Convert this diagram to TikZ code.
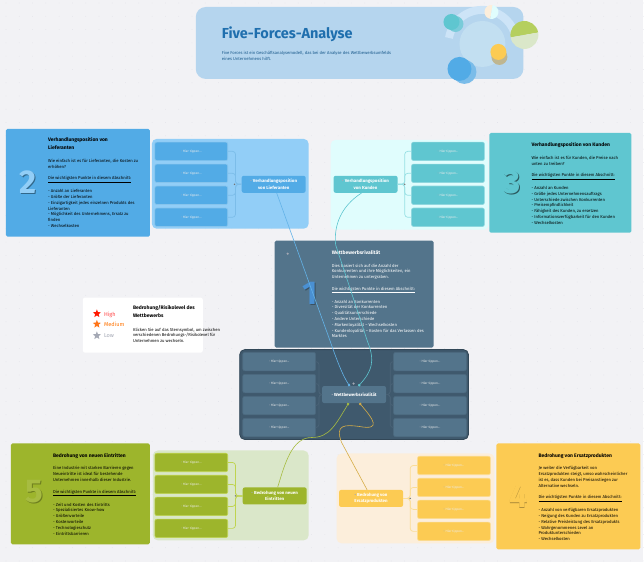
\documentclass[tikz,border=0pt]{standalone}
\usepackage{fontspec}
\setmainfont{Fira Sans}
\usetikzlibrary{arrows.meta,shapes.geometric}
\definecolor{pagebg}{HTML}{F2F2F5}
\definecolor{griddot}{HTML}{DEDEE6}
\definecolor{headbg}{HTML}{B5D5EE}
\definecolor{headink}{HTML}{1F6FAE}
\definecolor{headring}{HTML}{CDE4F7}
\definecolor{headdisc}{HTML}{C2DFF1}
\definecolor{ltblue}{HTML}{52ABE6}
\definecolor{ltpanel}{HTML}{92CEF7}
\definecolor{ltline}{HTML}{7CBDE9}
\definecolor{ktteal}{HTML}{5FC6D0}
\definecolor{ktpanel}{HTML}{E0FDFD}
\definecolor{ktline}{HTML}{97E0E4}
\definecolor{rvslate}{HTML}{53748B}
\definecolor{rvpanel}{HTML}{3F596D}
\definecolor{rvline}{HTML}{4A6377}
\definecolor{rvnum}{HTML}{4A90D2}
\definecolor{ngreen}{HTML}{9DB52C}
\definecolor{ngtop}{HTML}{B5CF5E}
\definecolor{ngpanel}{HTML}{DAE7C9}
\definecolor{ngline}{HTML}{BFD450}
\definecolor{ersyellow}{HTML}{FCCB53}
\definecolor{erpanel}{HTML}{FCEEDB}
\definecolor{erline}{HTML}{FBDD95}
\definecolor{dotgray}{HTML}{A4A8B4}
\newcommand{\cardfont}{\fontsize{4.2}{5.8}\selectfont}
\newcommand{\cardhead}{\fontsize{5}{8}\selectfont\bfseries}
\newcommand{\hint}{\textcolor{dotgray}{\textbullet}~Hier tippen...}
\tikzset{
	panelbox/.style = {rounded corners=5},
	subbox/.style = {draw, line width=.6, rounded corners=2, minimum width=73,
		minimum height=18.5, inner sep=0, text=white!85!gray, font=\fontsize{3.2}{4}\selectfont},
	mainbox/.style = {rounded corners=2, minimum width=64, minimum height=17,
		inner sep=0, align=center, text=white, font=\fontsize{4.4}{6.2}\selectfont\bfseries},
	bodytext/.style = {anchor=north west, align=left, inner sep=0, font=\cardfont},
	headtext/.style = {anchor=north west, align=left, inner sep=0, font=\cardhead},
	numeral/.style = {inner sep=0, font=\fontsize{33}{33}\selectfont\bfseries},
	bracket/.style = {line width=.7, rounded corners=3},
	junction/.style = {circle, minimum size=1.6, inner sep=0, fill=black!55},
	link/.style = {line width=.6, -{Square[length=2,width=2]}},
	starmark/.style = {star, star points=5, star point ratio=2.3, minimum size=8.5, inner sep=0}
}
\begin{document}
\begin{tikzpicture}[x=1pt, y=-1pt]
	\fill[pagebg] (0,0) rectangle (644,563);
	\foreach \i in {0,...,48}
		\foreach \j in {0,...,42}
			\fill[griddot] ({6+13.3*\i},{3+13.3*\j}) circle (.35);

	% header
	\fill[headbg, rounded corners=10] (196,7) rectangle (524,79);
	\draw[line width=8, color=headring] (449.5,38) arc[start angle=170, end angle=10, radius=34pt];
	\fill[headdisc] (483,44) circle (23);
	\fill[color=ktteal!70!headbg] (456,24) circle (8);
	\fill[ktteal] (452,22) circle (8);
	\fill[color=ltblue!60!headbg] (465,72) circle (12);
	\fill[color=ltblue] (460,69) circle (12);
	\fill[color=ersyellow!55!gray!70!headbg] (500,57) circle (8);
	\fill[ersyellow] (499,52) circle (8);
	\fill[ngtop] (525,35) -- ++(190:14pt) arc[start angle=190, end angle=10, radius=14pt] -- cycle;
	\fill[ngpanel] (525,35) -- ++(190:14pt) arc[start angle=190, end angle=370, radius=14pt] -- cycle;
	\fill[erpanel] (492,12) -- ++(80:7pt) arc[start angle=80, end angle=260, radius=7pt] -- cycle;
	\fill[ktpanel] (492,12) -- ++(80:7pt) arc[start angle=80, end angle=-100, radius=7pt] -- cycle;
	\node[anchor=west, inner sep=0, text=headink, font=\fontsize{14.5}{16}\selectfont\bfseries] (title) at (222,34) {Five-Forces-Analyse};
	\node[bodytext, text=headink!80!black, anchor=north west] (titlenote) at (222,51.5) {Five Forces ist ein Geschäftsanalysemodell, das bei der Analyse des Wettbewerbsumfelds\\eines Unternehmens hilft.};

	% panels
	\fill[ltpanel, panelbox] (152,139) rectangle (309,229);
	\fill[ktpanel, panelbox] (331,140) rectangle (489,230);
	\fill[ngpanel, panelbox] (153,451) rectangle (309,541);
	\fill[erpanel, panelbox] (337,454) rectangle (495,544);
	\filldraw[fill=rvpanel, draw=rvpanel!80!black, line width=.8, rounded corners=5] (240,350) rectangle (469,440);

	% cards
	\fill[ltblue, rounded corners=1.5] (6,129) rectangle (150,237);
	\fill[ktteal, rounded corners=1.5] (490,133) rectangle (632,233);
	\fill[rvslate, rounded corners=1.5] (275,241) rectangle (434,348);
	\fill[ngreen, rounded corners=1.5] (11,444) rectangle (150,545);
	\fill[ersyellow, rounded corners=1.5] (497,444) rectangle (641,550);

	\node[numeral, text=ltblue!60!black] (num2s) at (29,183) {2};
	\node[numeral, text=ltpanel] (num2) at (28,182) {2};
	\node[numeral, text=ktteal!45!black] (num3s) at (513.7,183.7) {3};
	\node[numeral, text=ktteal] (num3) at (513,183) {3};
	\node[numeral, text=rvslate!70!black] (num1s) at (312,295) {1};
	\node[numeral, text=rvnum] (num1) at (311,294) {1};
	\node[numeral, text=ngreen!70!black] (num5s) at (35,493) {5};
	\node[numeral, text=ngreen!90!white] (num5) at (34,492) {5};
	\node[numeral, text=ersyellow!70!black] (num4s) at (519.7,497.7) {4};
	\node[numeral, text=ersyellow] (num4) at (519,497) {4};

	\node[headtext] (headL) at (48,137.5) {Verhandlungsposition von\\Lieferanten};
	\node[bodytext] (textL) at (48,159) {Wie einfach ist es für Lieferanten, die Kosten zu\\erhöhen?\\[5.8pt]
		\underline{Die wichtigsten Punkte in diesem Abschnitt:}\\[5.8pt]
		- Anzahl an Lieferanten\\- Größe der Lieferanten\\- Einzigartigkeit jedes einzelnen Produkts des\\Lieferanten\\- Möglichkeit des Unternehmens, Ersatz zu\\finden\\- Wechselkosten};

	\node[headtext] (headK) at (532,142) {Verhandlungsposition von Kunden};
	\node[bodytext] (textK) at (532,156) {Wie einfach ist es für Kunden, die Preise nach\\unten zu treiben?\\[5.8pt]
		\underline{Die wichtigsten Punkte in diesem Abschnitt:}\\[5.8pt]
		- Anzahl an Kunden\\- Größe jedes Unternehmensauftrags\\- Unterschiede zwischen Konkurrenten\\- Preisempfindlichkeit\\- Fähigkeit des Kunden, zu ersetzen\\- Informationsverfügbarkeit für den Kunden\\- Wechselkosten};

	\node[headtext, text=white] (headR) at (332,251) {Wettbewerbsrivalität};
	\node[bodytext, text=white] (textR) at (332,264) {Dies basiert sich auf die Anzahl der\\Konkurrenten und ihre Möglichkeiten, ein\\Unternehmen zu untergraben.\\[5.8pt]
		\underline{Die wichtigsten Punkte in diesem Abschnitt:}\\[5.8pt]
		- Anzahl an Konkurrenten\\- Diversität der Konkurrenten\\- Qualitätsunterschiede\\- Andere Unterschiede\\- Markenloyalität – Wechselkosten\\- Kundenloyalität – Kosten für das Verlassen des\\Marktes};
	\node[circle, fill=dotgray, minimum size=2.4, inner sep=0] (dotR) at (288,254) {};

	\node[headtext] (headN) at (53,454) {Bedrohung von neuen Eintritten};
	\node[bodytext] (textN) at (53,467) {Eine Industrie mit starken Barrieren gegen\\Neueintritte ist ideal für bestehende\\Unternehmen innerhalb dieser Industrie.\\[5.8pt]
		\underline{Die wichtigsten Punkte in diesem Abschnitt:}\\[5.8pt]
		- Zeit und Kosten des Eintritts\\- Spezialisiertes Know-how\\- Größenvorteile\\- Kostenvorteile\\- Technologieschutz\\- Eintrittsbarrieren};

	\node[headtext] (headE) at (539,454) {Bedrohung von Ersatzprodukten};
	\node[bodytext] (textE) at (539,467) {Je weiter die Verfügbarkeit von\\Ersatzprodukten steigt, umso wahrscheinlicher\\ist es, dass Kunden bei Preisanstiegen zur\\Alternative wechseln.\\[5.8pt]
		\underline{Die wichtigsten Punkte in diesem Abschnitt:}\\[5.8pt]
		- Anzahl von verfügbaren Ersatzprodukten\\- Neigung des Kunden zu Ersatzprodukten\\- Relative Preisleistung des Ersatzprodukts\\- Wahrgenommenes Level an\\Produktunterschieden\\- Wechselkosten};

	% legend
	\fill[white, rounded corners=2] (83,298) rectangle (203,353);
	\node[starmark, fill=red!80!orange] (starH) at (97,314) {};
	\node[starmark, fill=orange!80!red!90!white] (starM) at (97,324.5) {};
	\node[starmark, fill=dotgray] (starL) at (97,336) {};
	\node[anchor=west, inner sep=0, text=red!70!white, font=\fontsize{5.6}{6}\selectfont] (labH) at (104,315) {High};
	\node[anchor=west, inner sep=0, text=orange!90!red, font=\fontsize{5.6}{6}\selectfont] (labM) at (104,325) {Medium};
	\node[anchor=west, inner sep=0, text=dotgray, font=\fontsize{5.6}{6}\selectfont] (labL) at (104,336) {Low};
	\node[headtext] (headB) at (133,306) {Bedrohung/Risikolevel des\\Wettbewerbs};
	\node[bodytext] (textB) at (133,328) {Klicken Sie auf das Sternsymbol, um zwischen\\verschiedenen Bedrohungs-/Risikolevel für\\Unternehmen zu wechseln.};

	% mind map groups
	\foreach \n in {1,...,4} {
		\node[subbox, fill=ltblue, draw=ltblue!70!white] (lief\n) at (191.5,{151.5+22*(\n-1)}) {\hint};
		\node[subbox, fill=ktteal, draw=ktteal!70!white] (kund\n) at (448.5,{151.5+22*(\n-1)}) {\hint};
		\node[subbox, fill=rvslate, draw=rvslate!90!black] (rivl\n) at (279.5,{362+22*(\n-1)}) {\hint};
		\node[subbox, fill=rvslate, draw=rvslate!90!black] (rivr\n) at (430.5,{362+22*(\n-1)}) {\hint};
		\node[subbox, fill=ngreen, draw=ngline] (neu\n) at (191.5,{463+22*(\n-1)}) {\hint};
		\node[subbox, fill=ersyellow, draw=erline] (ers\n) at (454.5,{466+22*(\n-1)}) {\hint};
	}
	\node[mainbox, fill=ltblue] (liefMain) at (274,184.5) {\textcolor{dotgray}{\textbullet}~Verhandlungsposition\\von Lieferanten};
	\node[mainbox, fill=ktteal] (kundMain) at (366,184.5) {\textcolor{dotgray}{\textbullet}~Verhandlungsposition\\von Kunden};
	\node[mainbox, fill=rvslate] (rivMain) at (354.5,395) {\textcolor{dotgray}{\textbullet}~Wettbewerbsrivalität};
	\node[mainbox, fill=ngreen] (neuMain) at (275,496.5) {\textcolor{dotgray}{\textbullet}~Bedrohung von neuen\\Eintritten};
	\node[mainbox, fill=ersyellow] (ersMain) at (371.5,499) {\textcolor{dotgray}{\textbullet}~Bedrohung von\\Ersatzprodukten};

	\foreach \n in {1,...,4} {
		\draw[bracket, ltline] (liefMain.west) -- ++(-6,0) |- (lief\n.east);
		\draw[bracket, ktline] (kundMain.east) -- ++(7,0) |- (kund\n.west);
		\draw[bracket, rvline] (rivMain.west) -- ++(-3,0) |- (rivl\n.east);
		\draw[bracket, rvline] (rivMain.east) -- ++(4,0) |- (rivr\n.west);
		\draw[bracket, ngline] (neuMain.west) -- ++(-7,0) |- (neu\n.east);
		\draw[bracket, erline] (ersMain.east) -- ++(7,0) |- (ers\n.west);
	}
	\node[junction] (jointL) at ([xshift=-7]liefMain.west) {};
	\node[junction] (jointK) at ([xshift=7]kundMain.east) {};
	\node[junction] (jointN) at ([xshift=-7]neuMain.west) {};
	\node[junction] (jointE) at ([xshift=7]ersMain.east) {};
	\node[junction, fill=dotgray, minimum size=2.4] (dotMain) at (354,384) {};

	% links to the centre
	\draw[link, color=ltblue!90!white] ([xshift=3]liefMain.south) -- (330,340) .. controls (337,360) and (343,376) .. ([xshift=-4.5]rivMain.north);
	\draw[link, color=ktteal] ([xshift=-4]kundMain.south) .. controls (342,206) and (334,225) .. (336,245) -- (368,342) .. controls (376,362) and (372,372) .. ([xshift=4.5]rivMain.north);
	\draw[link, color=ngreen!90!white] ([xshift=3]neuMain.north) .. controls (285,465) and (292,438) .. (312,438) .. controls (330,438) and (336,425) .. ([xshift=-5.5]rivMain.south);
	\draw[link, color=ersyellow!85!black] ([xshift=-4]ersMain.north) -- (342,443) .. controls (335,425) and (345,425) .. (360,427) .. controls (382,431) and (374,420) .. ([xshift=5.5]rivMain.south);
\end{tikzpicture}
\end{document}
